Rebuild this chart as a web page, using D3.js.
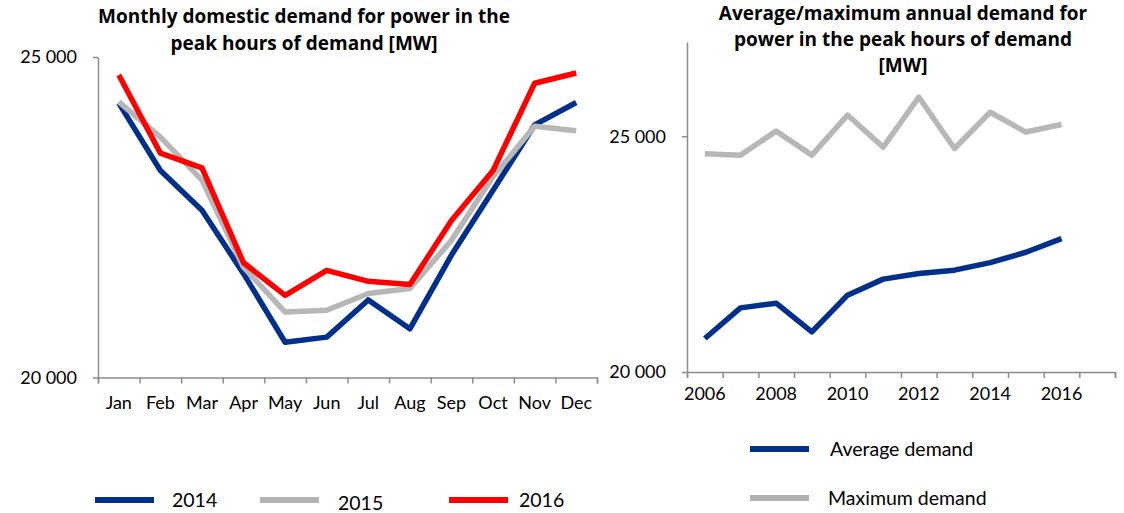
<!DOCTYPE html>
<html>
<head>
<meta charset="utf-8">
<script src="https://cdn.jsdelivr.net/npm/d3@7"></script>
<style>
  body { margin: 0; background: #fff; }
  svg { font-family: Lato, sans-serif; font-variant-ligatures: none; }
  .title { font-family: "Open Sans", sans-serif; font-weight: bold; font-size: 19px; fill: #000; }
  .tick text { font-size: 18px; fill: #000; font-family: Lato, sans-serif; }
  .axis path, .axis line { stroke: #8c8c8c; stroke-width: 1.5; }
  .legend text { font-size: 19.5px; fill: #000; }
</style>
</head>
<body>
<div id="chart"></div>
<script>
// monthly peak demand [MW]
const months = ["Jan", "Feb", "Mar", "Apr", "May", "Jun", "Jul", "Aug", "Sep", "Oct", "Nov", "Dec"];
const demand2014 = [24280, 23230, 22610, 21620, 20550, 20630, 21210, 20760, 21910, 22920, 23940, 24290];
const demand2015 = [24300, 23750, 23080, 21720, 21020, 21050, 21310, 21390, 22140, 23130, 23920, 23850];
const demand2016 = [24720, 23500, 23270, 21790, 21280, 21670, 21500, 21450, 22450, 23230, 24590, 24750];

// annual peak demand [MW]
const years = ["2006", "2007", "2008", "2009", "2010", "2011", "2012", "2013", "2014", "2015", "2016", "2017"];
const avgDemand = [20710, 21360, 21460, 20850, 21630, 21970, 22090, 22160, 22320, 22540, 22830];
const maxDemand = [24630, 24600, 25110, 24600, 25450, 24770, 25830, 24740, 25510, 25090, 25250];
const yearLabels = ["2006", "2008", "2010", "2012", "2014", "2016"];

const colors = { blue: "#00308a", gray: "#b7b7b7", red: "#ff0000" };
const fmt = d => d3.format(",")(d).replace(",", " ");

const svg = d3.select("#chart").append("svg")
    .attr("width", 1124)
    .attr("height", 513);

function drawChart(opts) {
    const x = d3.scaleBand().domain(opts.cats).range([opts.left, opts.right]);
    const y = d3.scaleLinear().domain(opts.yDomain).range([opts.bottom, opts.top]);

    // y axis
    svg.append("g")
        .attr("class", "axis")
        .attr("transform", `translate(${opts.left},0)`)
        .call(d3.axisLeft(y).tickValues([20000, 25000]).tickFormat(fmt)
            .tickSize(5).tickSizeOuter(0).tickPadding(16));

    // x axis: boundary ticks
    const edges = d3.scaleLinear().domain([0, opts.cats.length]).range([opts.left, opts.right]);
    svg.append("g")
        .attr("class", "axis")
        .attr("transform", `translate(0,${opts.bottom})`)
        .call(d3.axisBottom(edges).ticks(opts.cats.length).tickFormat("").tickSize(6).tickSizeOuter(6));

    // x labels
    const lab = svg.append("g")
        .attr("class", "axis")
        .attr("transform", `translate(0,${opts.bottom})`)
        .call(d3.axisBottom(x).tickValues(opts.labels).tickSize(0).tickPadding(opts.labelPad));
    lab.select(".domain").remove();

    const line = d3.line()
        .x((d, i) => x(opts.cats[i]) + x.bandwidth() / 2)
        .y(d => y(d));

    opts.series.forEach(s => {
        svg.append("path")
            .datum(s.values)
            .attr("fill", "none")
            .attr("stroke", s.color)
            .attr("stroke-width", 5.5)
            .attr("stroke-linejoin", "round")
            .attr("d", line);
    });

    // title
    const t = svg.append("text")
        .attr("class", "title")
        .attr("text-anchor", "middle");
    opts.title.forEach((l, i) => {
        t.append("tspan")
            .attr("x", opts.titleX)
            .attr("y", opts.titleY + i * opts.titleLh)
            .text(l);
    });
}

drawChart({
    cats: months, labels: months,
    left: 98, right: 597, top: 57, bottom: 377.5,
    yDomain: [20000, 25000], labelPad: 19,
    series: [
        { values: demand2014, color: colors.blue },
        { values: demand2015, color: colors.gray },
        { values: demand2016, color: colors.red }
    ],
    title: ["Monthly domestic demand for power in the", "peak hours of demand [MW]"],
    titleX: 304, titleY: 23, titleLh: 27
});

drawChart({
    cats: years, labels: yearLabels,
    left: 687, right: 1115, top: 42, bottom: 372,
    yDomain: [20000, 27000], labelPad: 15,
    series: [
        { values: maxDemand, color: colors.gray },
        { values: avgDemand, color: colors.blue }
    ],
    title: ["Average/maximum annual demand for", "power in the peak hours of demand", "[MW]"],
    titleX: 903, titleY: 20, titleLh: 26
});

// legends
const leftLegend = [
    { name: "2014", color: colors.blue, x: 95, tx: 172, y: 500 },
    { name: "2015", color: "#b3b3b3", x: 260, tx: 338, y: 503 },
    { name: "2016", color: colors.red, x: 449, tx: 519, y: 500 }
];
const rightLegend = [
    { name: "Average demand", color: colors.blue, x: 750, tx: 830, y: 449 },
    { name: "Maximum demand", color: "#b0b0b2", x: 750, tx: 828, y: 498 }
];

const lg = svg.append("g").attr("class", "legend");
leftLegend.concat(rightLegend).forEach(d => {
    lg.append("line")
        .attr("x1", d.x).attr("x2", d.x + 59)
        .attr("y1", d.name === "2015" ? 500 : d.y).attr("y2", d.name === "2015" ? 500 : d.y)
        .attr("stroke", d.color)
        .attr("stroke-width", 6);
    lg.append("text")
        .attr("x", d.tx)
        .attr("y", d.y)
        .attr("dy", "0.35em")
        .text(d.name);
});
</script>
</body>
</html>
